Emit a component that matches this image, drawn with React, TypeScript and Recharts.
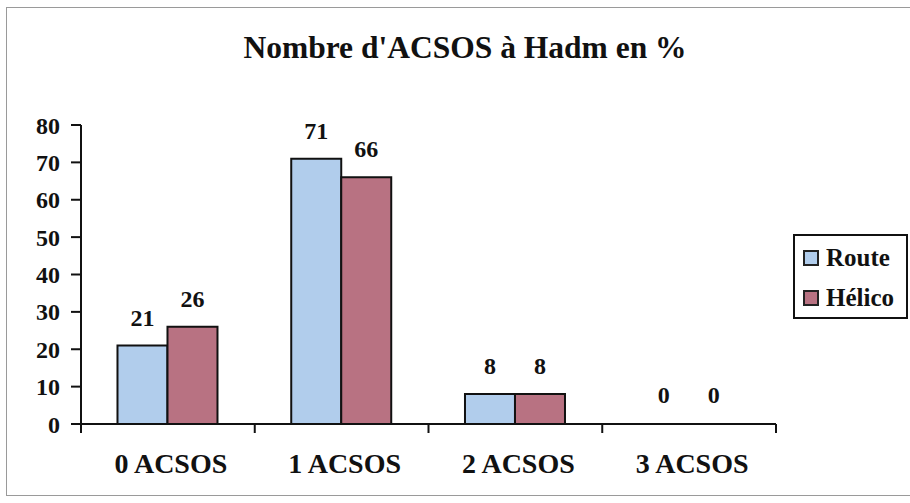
import React from 'react';
import { BarChart, Bar, XAxis, YAxis, Legend, LabelList, Rectangle } from 'recharts';

const categories = ['0 ACSOS', '1 ACSOS', '2 ACSOS', '3 ACSOS'];
const routeValues = [21, 71, 8, 0];
const helicoValues = [26, 66, 8, 0];
const yTicks = [0, 10, 20, 30, 40, 50, 60, 70, 80];

const data = categories.map((c, i) => ({ name: c, Route: routeValues[i], Helico: helicoValues[i] }));

const FONT = '"Liberation Serif", Tinos, "Times New Roman", Times, serif';
const BLUE = '#b1cdec';
const PINK = '#b87282';
const X_TICK_MARGIN = 29;
const X_TICK_LEN = 9;

const legendItems = [
  { label: 'Route', color: BLUE },
  { label: 'Hélico', color: PINK },
];

const LegendBox = () => (
  <div
    style={{
      border: '2px solid #111',
      background: '#fff',
      width: 111,
      height: 79,
      boxSizing: 'content-box',
      fontFamily: FONT,
      fontWeight: 'bold',
      fontSize: 25,
      color: '#111',
      paddingTop: 2,
    }}
  >
    {legendItems.map((it) => (
      <div key={it.label} style={{ height: 40, display: 'flex', alignItems: 'center', lineHeight: '40px' }}>
        <span
          style={{
            display: 'inline-block',
            width: 12,
            height: 12,
            border: '2px solid #222',
            background: it.color,
            marginLeft: 8,
            marginRight: 7,
          }}
        />
        <span>{it.label}</span>
      </div>
    ))}
  </div>
);

const CatTick = (props: any) => {
  const { x, y, payload, index, visibleTicksCount, width } = props;
  const count = visibleTicksCount || 4;
  const half = (Number(width) || 0) / count / 2;
  const axisY = y - X_TICK_MARGIN;
  return (
    <g>
      <line x1={x - half} x2={x - half} y1={axisY} y2={axisY + X_TICK_LEN} stroke="#111" strokeWidth={2} />
      {index === count - 1 ? (
        <line x1={x + half} x2={x + half} y1={axisY} y2={axisY + X_TICK_LEN} stroke="#111" strokeWidth={2} />
      ) : null}
      <text
        x={x + 3}
        y={y}
        dy="0.71em"
        textAnchor="middle"
        fontFamily={FONT}
        fontWeight="bold"
        fontSize={28}
        fill="#111"
      >
        {payload.value}
      </text>
    </g>
  );
};

// Zero-valued bars get a 1px min size so their value label is placed; the sliver itself is not drawn.
const BarShape = (props: any) => {
  if (Math.abs(Number(props.height) || 0) <= 1.01) return <g />;
  return <Rectangle {...props} />;
};

const labelStyle = { fontFamily: FONT, fontWeight: 'bold', fontSize: 24, fill: '#111' };

export default function App() {
  return (
    <div style={{ position: 'absolute', left: 0, top: 0, width: 910, height: 503, background: '#fff', overflow: 'hidden' }}>
      <div
        style={{
          position: 'absolute',
          left: 6,
          top: 7,
          width: 920,
          height: 489,
          border: '1.5px solid #9a9a9a',
          boxSizing: 'border-box',
        }}
      />
      <div
        style={{
          position: 'absolute',
          left: 0,
          top: 32,
          width: 930,
          textAlign: 'center',
          fontFamily: FONT,
          fontWeight: 'bold',
          fontSize: 31.5,
          lineHeight: 1,
          color: '#111',
        }}
      >
        Nombre d'ACSOS à Hadm en %
      </div>
      <BarChart
        width={910}
        height={503}
        data={data}
        margin={{ top: 125, right: 134, bottom: 19, left: 0 }}
        barCategoryGap="21%"
        barGap={0}
      >
        <XAxis
          dataKey="name"
          height={60}
          axisLine={{ stroke: '#111', strokeWidth: 2 }}
          tickLine={false}
          tickSize={0}
          tickMargin={X_TICK_MARGIN}
          interval={0}
          tick={<CatTick />}
        />
        <YAxis
          width={81}
          domain={[0, 80]}
          ticks={yTicks}
          interval={0}
          tickSize={10}
          tickMargin={11}
          axisLine={{ stroke: '#111', strokeWidth: 2 }}
          tickLine={{ stroke: '#111', strokeWidth: 2 }}
          tick={{ fontFamily: FONT, fontWeight: 'bold', fontSize: 24, fill: '#111' }}
        />
        <Legend
          layout="vertical"
          align="center"
          verticalAlign="middle"
          content={() => <LegendBox />}
          wrapperStyle={{ left: 793, top: 234, width: 115 }}
        />
        <Bar
          dataKey="Route"
          fill={BLUE}
          stroke="#111"
          strokeWidth={2}
          minPointSize={1}
          shape={<BarShape />}
          isAnimationActive={false}
        >
          <LabelList dataKey="Route" position="top" offset={20} style={labelStyle} />
        </Bar>
        <Bar
          dataKey="Helico"
          fill={PINK}
          stroke="#111"
          strokeWidth={2}
          minPointSize={1}
          shape={<BarShape />}
          isAnimationActive={false}
        >
          <LabelList dataKey="Helico" position="top" offset={20} style={labelStyle} />
        </Bar>
      </BarChart>
    </div>
  );
}
